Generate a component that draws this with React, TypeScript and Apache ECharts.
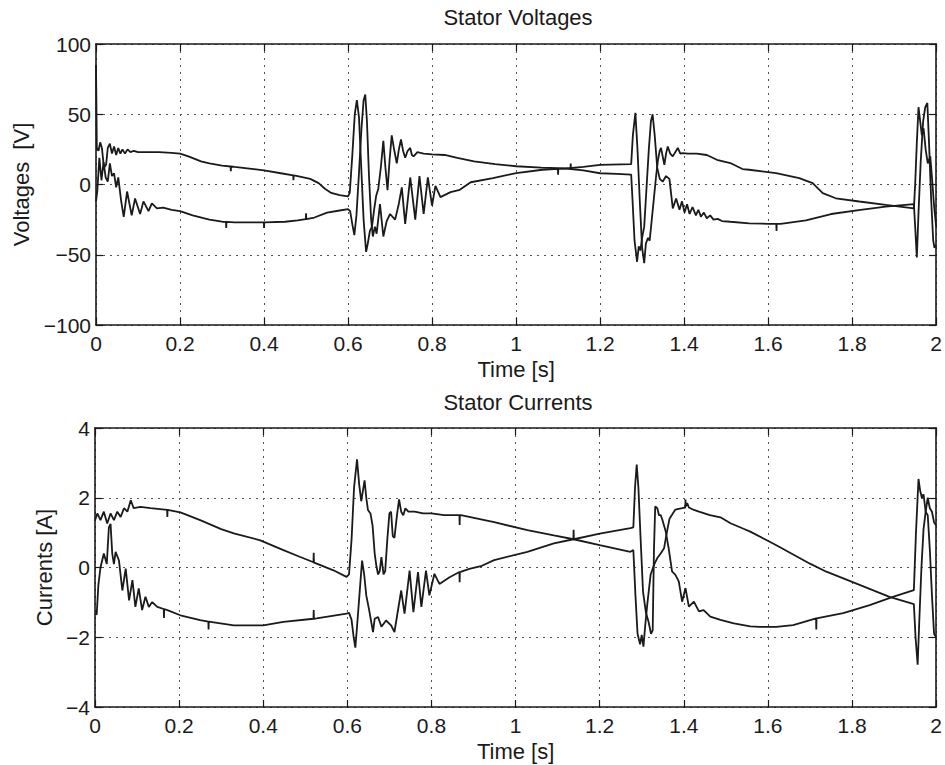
import React, { useEffect, useRef } from "react";
import * as echarts from "echarts";

// ---------- Data ----------
const xTicks = [0, 0.2, 0.4, 0.6, 0.8, 1, 1.2, 1.4, 1.6, 1.8, 2];
const voltageTicks = [-100, -50, 0, 50, 100];
const currentTicks = [-4, -2, 0, 2, 4];

// Stator voltage, phase 1 [t (s), V]
const voltage1: [number, number][] = [
  [0, 85], [0.002, 26], [0.006, 24], [0.010, 30], [0.014, 26], [0.019, 12], [0.024, 14],
  [0.028, 26], [0.033, 29], [0.038, 22], [0.043, 27], [0.048, 21], [0.053, 26], [0.058, 22],
  [0.063, 25], [0.069, 22], [0.075, 25], [0.082, 23], [0.09, 24], [0.1, 23], [0.12, 23],
  [0.15, 23], [0.18, 22.5], [0.2, 22], [0.22, 20], [0.25, 16.5], [0.27, 15], [0.30, 13.5],
  [0.3205, 12.8], [0.321, 9.5], [0.3215, 12.8], [0.33, 12.5], [0.36, 11.5], [0.40, 10],
  [0.44, 8], [0.4695, 6.5], [0.47, 3], [0.4705, 6.5], [0.48, 6], [0.51, 4], [0.53, 1],
  [0.545, -3], [0.56, -6], [0.58, -7.5], [0.600, -8.5], [0.604, -6], [0.610, 20], [0.616, 50],
  [0.621, 60], [0.626, 48], [0.631, 15], [0.637, -25], [0.643, -48], [0.647, -42], [0.652, -33],
  [0.657, -30], [0.662, -18], [0.667, -8], [0.672, -3], [0.678, 12], [0.684, 31], [0.689, 12],
  [0.694, -4], [0.699, 18], [0.704, 35], [0.709, 26], [0.716, 15], [0.721, 25], [0.726, 32],
  [0.731, 24], [0.736, 19], [0.742, 24], [0.748, 26], [0.752, 21], [0.756, 20], [0.765, 23],
  [0.78, 22], [0.8, 21.5], [0.83, 21], [0.86, 19], [0.9, 16.5], [0.95, 14.5], [1.0, 13],
  [1.06, 12], [1.12, 11.4], [1.1295, 11], [1.13, 15], [1.1305, 11], [1.16, 10], [1.2, 8],
  [1.24, 7.5], [1.274, 7], [1.277, -10], [1.282, -40], [1.288, -55], [1.292, -44],
  [1.296, -47], [1.300, -38], [1.305, -30], [1.310, -5], [1.316, 25], [1.321, 45],
  [1.325, 50], [1.330, 35], [1.336, 12], [1.342, 4], [1.349, 2], [1.357, 6], [1.365, 4],
  [1.373, -17], [1.381, -10], [1.389, -18], [1.395, -12], [1.401, -20], [1.407, -14],
  [1.413, -21], [1.42, -16], [1.428, -22], [1.434, -18], [1.44, -23], [1.447, -20],
  [1.454, -24], [1.462, -22], [1.47, -25], [1.48, -24.5], [1.49, -26], [1.51, -26.5],
  [1.555, -27.6], [1.6, -28], [1.6195, -28], [1.62, -33], [1.6205, -28], [1.63, -28],
  [1.69, -25.5], [1.75, -21], [1.82, -18], [1.88, -15.7], [1.947, -14], [1.950, -30],
  [1.954, -52], [1.958, -20], [1.963, 15], [1.969, 45], [1.974, 55], [1.979, 58], [1.983, 30],
  [1.988, -10], [1.993, -40], [1.996, -45], [2.0, -43],
];

// Stator voltage, phase 2 [t (s), V]
const voltage2: [number, number][] = [
  [0, -12], [0.003, -5], [0.008, 19], [0.013, 3], [0.018, 16], [0.023, 5], [0.028, 2],
  [0.033, 15], [0.038, 6], [0.043, 8], [0.048, -2], [0.053, 5], [0.06, -12], [0.066, -23],
  [0.074, -5], [0.085, -22], [0.093, -10], [0.105, -21], [0.113, -12], [0.125, -19],
  [0.133, -13.5], [0.145, -17], [0.16, -16.5], [0.18, -18], [0.2, -19], [0.23, -22],
  [0.27, -25], [0.3, -26.5], [0.3095, -26.6], [0.31, -31], [0.3105, -26.6], [0.33, -27],
  [0.3995, -27], [0.4, -31], [0.4005, -27], [0.45, -26.5], [0.48, -25.5], [0.4995, -24.6],
  [0.5, -20.5], [0.5005, -24.6], [0.52, -23.5], [0.55, -20], [0.58, -18.5], [0.600, -17.5],
  [0.605, -19], [0.610, -28], [0.615, -36], [0.620, -22], [0.626, 8], [0.632, 40],
  [0.637, 60], [0.641, 64], [0.645, 45], [0.650, 5], [0.655, -25], [0.659, -37],
  [0.664, -30], [0.668, -35], [0.676, -14], [0.684, -37], [0.692, -26], [0.700, -21],
  [0.712, -25], [0.720, -15], [0.728, -2], [0.736, -28], [0.748, 5], [0.760, -25],
  [0.770, 6], [0.780, -21], [0.790, 5], [0.800, -15], [0.808, -1], [0.820, -9],
  [0.844, -5.4], [0.866, -3.8], [0.892, 1.6], [0.945, 4.5], [1.0, 8.1], [1.063, 10.5],
  [1.0995, 11.1], [1.1, 7], [1.1005, 11.1], [1.12, 11.4], [1.16, 12.5], [1.2, 14],
  [1.274, 14.5], [1.278, 35], [1.284, 51], [1.289, 25], [1.295, -15], [1.300, -45],
  [1.305, -56], [1.309, -42], [1.314, -38], [1.318, -40], [1.323, -25], [1.328, -10],
  [1.333, 5], [1.338, 18], [1.342, 24], [1.345, 26], [1.349, 20], [1.353, 14], [1.357, 22],
  [1.361, 27], [1.367, 22], [1.373, 20], [1.385, 26], [1.391, 22], [1.397, 22.4],
  [1.409, 22], [1.43, 22], [1.454, 21], [1.478, 17.6], [1.51, 15.3], [1.539, 11],
  [1.555, 10.5], [1.619, 8.1], [1.674, 4.5], [1.706, 1], [1.73, -6.2], [1.761, -9.8],
  [1.817, -12.1], [1.88, -14.5], [1.947, -17], [1.950, 0], [1.954, 30], [1.958, 55],
  [1.962, 45], [1.966, 35], [1.970, 40], [1.975, 25], [1.980, 15], [1.986, 20], [1.99, 5],
  [1.995, -15], [2.0, -30],
];

// Stator current, phase 1 [t (s), A]
const current1: [number, number][] = [
  [0, 1.35], [0.0055, 1.55], [0.013, 1.36], [0.021, 1.6], [0.029, 1.26], [0.037, 1.55],
  [0.045, 1.36], [0.053, 1.6], [0.061, 1.45], [0.069, 1.7], [0.077, 1.6], [0.085, 1.93],
  [0.092, 1.7], [0.108, 1.74], [0.132, 1.7], [0.1715, 1.65],
  [0.172, 1.45], [0.1725, 1.65], [0.203, 1.58], [0.25, 1.36], [0.30, 1.1], [0.33, 0.98],
  [0.393, 0.78], [0.448, 0.5], [0.488, 0.3], [0.5195, 0.15], [0.52, 0.42], [0.5205, 0.14],
  [0.527, 0.11], [0.567, -0.08], [0.598, -0.27], [0.604, -0.2], [0.610, 0.8],
  [0.616, 2.3], [0.623, 3.1], [0.628, 2.4], [0.633, 1.9], [0.637, 2.2], [0.641, 2.5],
  [0.645, 2.0], [0.649, 1.65], [0.655, 1.55], [0.660, 1.2], [0.665, 0.4], [0.669, 0.05],
  [0.673, -0.2], [0.677, -0.1], [0.681, 0.3], [0.686, -0.2], [0.690, -0.1], [0.695, 0.8],
  [0.700, 1.55], [0.704, 1.6], [0.708, 0.9], [0.712, 0.85], [0.718, 1.5], [0.723, 1.95],
  [0.728, 1.6], [0.733, 1.5], [0.738, 1.7], [0.745, 1.6], [0.76, 1.6], [0.78, 1.55],
  [0.8, 1.55], [0.83, 1.5], [0.8665, 1.5], [0.867, 1.22], [0.8675, 1.5], [0.87, 1.5],
  [0.949, 1.3], [1.028, 1.07], [1.091, 0.92], [1.138, 0.81], [1.2, 0.64], [1.273, 0.45],
  [1.28, 0.5], [1.285, -0.8], [1.29, -1.9], [1.296, -2.2], [1.30, -1.93], [1.304, -2.27],
  [1.308, -1.7], [1.313, -1.07], [1.321, -0.21], [1.33, 0.1], [1.337, 0.27], [1.345, 0.4],
  [1.353, 0.55], [1.36, 1.03], [1.366, 1.4], [1.372, 1.51], [1.38, 1.66], [1.396, 1.7],
  [1.4035, 1.72], [1.404, 1.95], [1.4045, 1.75], [1.408, 1.85], [1.412, 1.72],
  [1.424, 1.65], [1.436, 1.6], [1.462, 1.5], [1.487, 1.44], [1.511, 1.27], [1.542, 1.11],
  [1.558, 1.03], [1.62, 0.64], [1.7, 0.11], [1.739, -0.12], [1.818, -0.5], [1.889, -0.84],
  [1.947, -1.05], [1.951, -2.0], [1.956, -2.79], [1.96, -1.5], [1.965, 0.0], [1.97, 1.1],
  [1.975, 1.6], [1.98, 2.0], [1.985, 1.7], [1.99, 1.6], [1.995, 1.3], [2.0, 1.2],
];

// Stator current, phase 2 [t (s), A]
const current2: [number, number][] = [
  [0, -1.32], [0.004, -1.35], [0.008, -0.5], [0.013, 0.0], [0.021, 0.4], [0.028, 0.1],
  [0.033, 1.15], [0.037, 1.25], [0.041, 0.4], [0.045, 0.1], [0.049, 0.45], [0.057, 0.2],
  [0.065, -0.66], [0.073, -0.03], [0.081, -0.94], [0.089, -0.36], [0.096, -1.13],
  [0.104, -0.6], [0.112, -1.22], [0.12, -0.84], [0.128, -1.13], [0.136, -0.99],
  [0.148, -1.13], [0.1635, -1.19], [0.164, -1.45], [0.1645, -1.19], [0.172, -1.22],
  [0.203, -1.37], [0.25, -1.51], [0.2695, -1.55], [0.27, -1.78], [0.2705, -1.55],
  [0.33, -1.66], [0.4, -1.66], [0.448, -1.56], [0.5195, -1.47], [0.52, -1.22],
  [0.5205, -1.47], [0.527, -1.46], [0.598, -1.32], [0.604, -1.3], [0.610, -1.5],
  [0.615, -2.0], [0.619, -2.3], [0.623, -1.7], [0.629, -0.75], [0.635, 0.2], [0.640, -0.2],
  [0.645, -0.8], [0.652, -1.23], [0.661, -1.85], [0.665, -1.47], [0.673, -1.42],
  [0.681, -1.7], [0.692, -1.52], [0.704, -1.66], [0.712, -1.85], [0.728, -0.66],
  [0.736, -1.32], [0.748, -0.09], [0.757, -1.28], [0.768, -0.13], [0.776, -1.13],
  [0.787, -0.09], [0.795, -0.8], [0.807, -0.18], [0.819, -0.47], [0.843, -0.28],
  [0.8665, -0.13], [0.867, -0.42], [0.8675, -0.13], [0.89, -0.04], [0.92, 0.05],
  [0.949, 0.21], [1.028, 0.45], [1.091, 0.69], [1.1375, 0.81], [1.138, 1.08],
  [1.1385, 0.81], [1.2, 0.97], [1.273, 1.13], [1.28, 1.15], [1.284, 2.3], [1.288, 2.95],
  [1.292, 2.3], [1.297, 0.9], [1.303, -0.69], [1.31, -1.3], [1.316, -1.55], [1.322, -1.9],
  [1.326, -1.8], [1.329, 0.5], [1.332, 1.75], [1.337, 1.7], [1.341, 1.5], [1.345, 1.5],
  [1.349, 1.37], [1.357, 1.03], [1.364, 0.55], [1.372, -0.11], [1.38, -0.21], [1.388, -0.4],
  [1.396, -0.98], [1.404, -0.59], [1.412, -1.12], [1.424, -0.98], [1.436, -1.26],
  [1.447, -1.22], [1.463, -1.41], [1.487, -1.5], [1.519, -1.6], [1.558, -1.69],
  [1.581, -1.7], [1.62, -1.7], [1.66, -1.65], [1.7145, -1.46], [1.715, -1.78],
  [1.7155, -1.46], [1.779, -1.31], [1.842, -1.08], [1.897, -0.84], [1.947, -0.65],
  [1.952, 1.0], [1.958, 2.54], [1.962, 2.2], [1.966, 2.0], [1.97, 2.1], [1.975, 1.6],
  [1.98, 1.5], [1.985, 0.5], [1.99, -0.8], [1.995, -1.9], [2.0, -2.0],
];

// ---------- Styling ----------
const INK = "#1a1a1a";
const FONT = "'Liberation Sans', Arial, Helvetica, sans-serif";
const TICK_FONT = 21;
const NAME_FONT = 22;

const fmtX = (v: number) => String(Math.round(v * 10) / 10);
const fmtY = (v: number) => (v < 0 ? "\u2212" + Math.abs(v) : String(v));

function bottomX(gridIndex: number) {
  return {
    type: "value",
    gridIndex,
    min: xTicks[0],
    max: xTicks[xTicks.length - 1],
    interval: 0.2,
    name: "Time [s]",
    nameLocation: "middle",
    nameGap: 33,
    nameTextStyle: { color: INK, fontSize: NAME_FONT, fontFamily: FONT },
    axisLine: { show: true, onZero: false, lineStyle: { color: INK, width: 1.6 } },
    axisTick: { show: true, inside: true, length: 7, lineStyle: { color: INK, width: 1.2 } },
    axisLabel: { color: INK, fontSize: TICK_FONT, fontFamily: FONT, margin: 8, formatter: fmtX },
    splitLine: { show: true, lineStyle: { color: "#555", width: 1, type: [2, 5] } },
  };
}
function topX(gridIndex: number) {
  return {
    type: "value",
    gridIndex,
    position: "top",
    min: xTicks[0],
    max: xTicks[xTicks.length - 1],
    interval: 0.2,
    axisLine: { show: true, onZero: false, lineStyle: { color: INK, width: 1.6 } },
    axisTick: { show: true, inside: true, length: 7, lineStyle: { color: INK, width: 1.2 } },
    axisLabel: { show: false },
    splitLine: { show: false },
  };
}
function leftY(gridIndex: number, ticks: number[], name: string, gap: number) {
  return {
    type: "value",
    gridIndex,
    min: ticks[0],
    max: ticks[ticks.length - 1],
    interval: ticks[1] - ticks[0],
    name,
    nameLocation: "middle",
    nameGap: gap,
    nameTextStyle: { color: INK, fontSize: NAME_FONT, fontFamily: FONT },
    axisLine: { show: true, onZero: false, lineStyle: { color: INK, width: 1.6 } },
    axisTick: { show: true, inside: true, length: 7, lineStyle: { color: INK, width: 1.2 } },
    axisLabel: { color: INK, fontSize: TICK_FONT, fontFamily: FONT, margin: 5, formatter: fmtY },
    splitLine: { show: true, lineStyle: { color: "#555", width: 1, type: [2, 5] } },
  };
}
function rightY(gridIndex: number, ticks: number[]) {
  return {
    type: "value",
    gridIndex,
    position: "right",
    min: ticks[0],
    max: ticks[ticks.length - 1],
    interval: ticks[1] - ticks[0],
    axisLine: { show: true, onZero: false, lineStyle: { color: INK, width: 1.6 } },
    axisTick: { show: true, inside: true, length: 7, lineStyle: { color: INK, width: 1.2 } },
    axisLabel: { show: false },
    splitLine: { show: false },
  };
}
function trace(data: [number, number][], xAxisIndex: number, yAxisIndex: number) {
  return {
    type: "line",
    data,
    xAxisIndex,
    yAxisIndex,
    showSymbol: false,
    symbol: "none",
    lineStyle: { color: INK, width: 1.8 },
    silent: true,
  };
}

export default function App() {
  const ref = useRef<HTMLDivElement>(null);
  useEffect(() => {
    if (!ref.current) return;
    const chart = echarts.init(ref.current, undefined, { renderer: "svg" });
    chart.setOption({
      animation: false,
      backgroundColor: "#ffffff",
      title: [
        {
          text: "Stator Voltages",
          left: 518,
          top: 6,
          padding: 0,
          textAlign: "center",
          textStyle: { color: INK, fontSize: NAME_FONT, fontWeight: "normal", fontFamily: FONT },
        },
        {
          text: "Stator Currents",
          left: 518,
          top: 391,
          padding: 0,
          textAlign: "center",
          textStyle: { color: INK, fontSize: NAME_FONT, fontWeight: "normal", fontFamily: FONT },
        },
      ],
      grid: [
        { left: 96, top: 44, width: 841, height: 281 },
        { left: 95, top: 428, width: 842, height: 279 },
      ],
      xAxis: [bottomX(0), topX(0), bottomX(1), topX(1)],
      yAxis: [
        leftY(0, voltageTicks, "Voltages  [V]", 63),
        rightY(0, voltageTicks),
        leftY(1, currentTicks, "Currents [A]", 36),
        rightY(1, currentTicks),
      ],
      series: [
        trace(voltage1, 0, 0),
        trace(voltage2, 0, 0),
        trace(current1, 2, 2),
        trace(current2, 2, 2),
      ],
    });
    return () => chart.dispose();
  }, []);
  return (
    <div
      ref={ref}
      style={{ position: "absolute", left: 0, top: 0, width: 945, height: 765, background: "#fff" }}
    />
  );
}
